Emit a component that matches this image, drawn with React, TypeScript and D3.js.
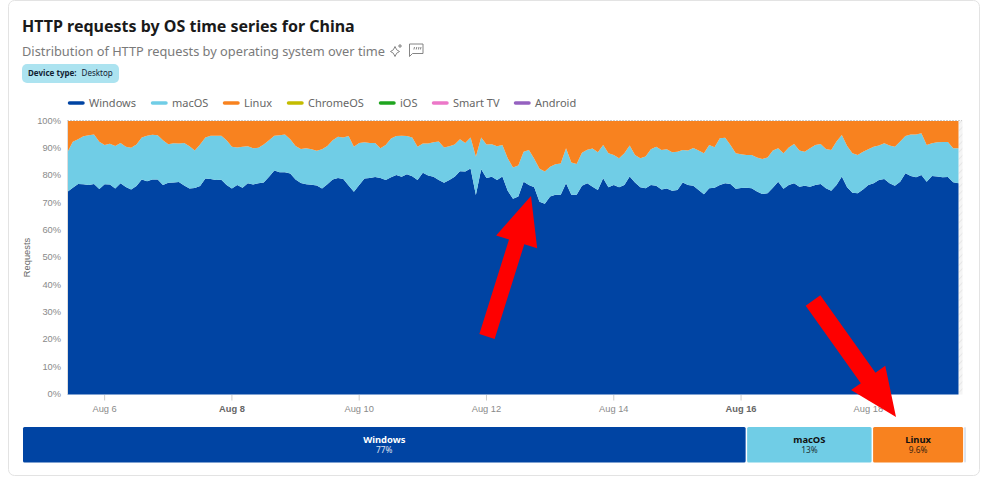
import React from "react";
import * as d3 from "d3";

const osNames = ["Windows", "macOS", "Linux", "ChromeOS", "iOS", "Smart TV", "Android"];
const osColors = ["#0044a3", "#70cde6", "#f8821f", "#c4bc00", "#1fa51f", "#ec77c8", "#9561c0"];

// Windows share (%), every 2 hours
const windowsPct = [
  74.1,75.6,77.0,76.9,76.6,77.0,75.1,76.9,76.8,75.3,77.2,75.9,75.0,76.2,78.6,78.0,78.6,78.6,76.6,77.4,
  77.5,77.7,76.4,75.3,75.5,76.2,79.0,78.8,78.4,78.5,76.6,75.3,76.6,75.6,77.2,76.8,77.2,77.5,79.6,81.9,
  81.3,81.3,80.8,78.6,77.3,76.9,76.7,76.4,75.3,76.9,78.6,79.2,78.8,76.4,74.1,76.6,79.0,79.2,79.5,79.2,
  78.4,79.4,80.3,79.6,80.5,79.8,78.4,81.1,80.1,79.6,78.4,77.4,78.4,79.6,81.6,81.5,82.6,72.9,82.4,79.2,
  79.6,78.4,79.7,74.5,71.6,72.4,77.8,76.6,75.8,70.5,69.7,72.4,73.0,73.0,77.2,73.0,73.0,76.3,77.2,76.0,
  74.8,79.1,75.8,76.6,75.8,76.6,79.7,77.5,75.8,75.4,76.6,76.3,75.0,75.3,74.5,74.8,77.5,76.6,76.3,74.8,
  73.2,75.4,75.6,76.6,77.2,77.0,75.2,75.5,75.6,75.4,74.2,73.3,73.6,75.6,77.8,75.2,76.6,77.2,76.0,76.3,
  76.0,76.6,77.0,75.4,74.5,76.6,79.7,75.8,73.8,73.6,75.0,76.6,77.2,78.4,78.8,77.2,76.3,77.8,80.9,79.9,
  79.4,80.3,77.8,79.9,79.7,79.4,79.5,77.6,77.2,
];

// Windows + macOS cumulative share (%), every 2 hours; Linux fills the rest
const windowsPlusMacPct = [
  88.7,92.4,93.3,94.4,94.8,95.1,92.4,91.2,91.7,90.9,92.0,90.6,90.2,91.4,94.0,94.6,95.0,94.8,93.0,91.5,
  91.9,91.8,92.0,90.8,89.2,91.4,94.0,94.6,94.6,94.6,93.0,90.6,90.3,90.6,90.8,90.0,90.2,91.4,93.0,94.6,
  94.8,95.1,93.3,90.9,89.8,90.0,89.7,89.1,89.7,90.9,93.0,94.2,94.0,94.5,90.6,92.0,92.2,92.0,92.0,90.0,
  91.2,93.6,94.5,94.6,94.5,94.0,90.6,91.8,91.8,92.2,92.5,90.3,90.8,91.4,93.3,92.0,94.0,86.9,94.0,91.4,
  91.5,90.8,91.2,86.4,83.0,83.7,88.8,89.4,86.2,82.5,81.5,83.3,84.2,84.5,90.0,84.8,84.3,88.4,89.5,89.9,
  88.6,91.2,88.2,87.6,86.4,88.2,91.0,87.6,86.4,87.0,89.7,90.6,89.4,89.7,88.6,88.8,89.4,89.2,90.1,89.2,
  88.2,91.2,90.4,93.7,93.9,91.2,88.2,87.8,87.6,87.6,86.7,86.1,86.7,89.2,90.0,88.2,90.3,91.6,89.2,88.8,
  90.0,91.2,91.6,89.8,89.4,92.5,94.9,90.9,88.2,87.6,88.8,89.7,90.6,91.0,91.9,91.0,90.6,92.5,94.5,95.1,
  95.1,95.5,91.2,91.9,92.2,92.3,92.3,90.0,90.0,
];

const yTicks = [0, 10, 20, 30, 40, 50, 60, 70, 80, 90, 100];
const xTickDays = [6, 8, 10, 12, 14, 16, 18];
const boldDays = [8, 16];

const summaryNames = ["Windows", "macOS", "Linux", "Other"];
const summaryShares = [76.75, 13.35, 9.7, 0.2];
const summaryLabels = ["77%", "13%", "9.6%", ""];

const startTime = Date.UTC(2025, 7, 5, 10);
const stepHours = 2;

function arrowPoints(sx: number, sy: number, tx: number, ty: number, shaft: number, headW: number, headL: number) {
  const a = Math.atan2(ty - sy, tx - sx);
  const ux = Math.cos(a), uy = Math.sin(a), nx = -uy, ny = ux;
  const bx = tx - ux * headL, by = ty - uy * headL;
  const pts = [
    [sx + (nx * shaft) / 2, sy + (ny * shaft) / 2],
    [bx + (nx * shaft) / 2, by + (ny * shaft) / 2],
    [bx + (nx * headW) / 2, by + (ny * headW) / 2],
    [tx, ty],
    [bx - (nx * headW) / 2, by - (ny * headW) / 2],
    [bx - (nx * shaft) / 2, by - (ny * shaft) / 2],
    [sx - (nx * shaft) / 2, sy - (ny * shaft) / 2],
  ];
  return pts.map((p) => p.join(",")).join(" ");
}

export default function App() {
  const uiFont = "'Noto Sans', sans-serif";
  const axisFont = "'Liberation Sans', sans-serif";
  const rows = windowsPct.map((w, i) => ({
    t: new Date(startTime + i * stepHours * 3600e3),
    w,
    m: windowsPlusMacPct[i],
  }));
  const x = d3
    .scaleUtc()
    .domain([rows[0].t, rows[rows.length - 1].t])
    .range([67.5, 958.5]);
  const y = d3.scaleLinear().domain([0, 100]).range([394.5, 121]);

  const area = (lo: (r: (typeof rows)[number]) => number, hi: (r: (typeof rows)[number]) => number) =>
    d3
      .area<(typeof rows)[number]>()
      .x((d) => x(d.t))
      .y0((d) => y(lo(d)))
      .y1((d) => y(hi(d)))(rows) ?? "";

  const summaryTotal = d3.sum(summaryShares);
  const bar = d3.scaleLinear().domain([0, summaryTotal]).range([23, 966.5]);
  let cum = 0;
  const segments = summaryNames.map((name, i) => {
    const s = { name, i, x0: bar(cum), x1: bar(cum + summaryShares[i]) };
    cum += summaryShares[i];
    return s;
  });

  const legendX = [68, 151, 223, 287, 379, 432, 514];

  return (
    <svg
      width={981}
      height={487}
      style={{ position: "absolute", left: 0, top: 0, background: "#fff" }}
    >
      <defs>
        <pattern id="hatch" width="5" height="5" patternUnits="userSpaceOnUse" patternTransform="rotate(45)">
          <rect width="5" height="5" fill="#f4f4f4" />
          <line x1="0" y1="0" x2="0" y2="5" stroke="#e2e2e2" strokeWidth="1.4" />
        </pattern>
      </defs>

      <rect x={8.5} y={0.5} width={971} height={475} rx={6} fill="#fff" stroke="#e3e3e3" />

      <text x={22} y={32} fontFamily={uiFont} fontSize={16} fontWeight={700} fill="#1a1a1a">
        HTTP requests by OS time series for China
      </text>
      <text x={22} y={56} fontFamily={uiFont} fontSize={12.8} fill="#7a7a7a">
        Distribution of HTTP requests by operating system over time
      </text>

      {/* sparkle icon */}
      <g fill="none" stroke="#777" strokeWidth={0.9}>
        <path d="M395 46.5 Q396 50.5 399.5 51.5 Q396 52.5 395 56.5 Q394 52.5 390.5 51.5 Q394 50.5 395 46.5 Z" />
        <path d="M400 44 v4 M398 46 h4" />
      </g>
      {/* quote bubble icon */}
      <g fill="none" stroke="#777" strokeWidth={0.9}>
        <path d="M409.5 44 H423 V53.5 H412.5 L409.5 56.5 Z" />
        <path d="M414.5 47 l-0.6 2.5 M416.8 47 l-0.6 2.5 M419 47 l-0.6 2.5 M421 47 l-0.6 2.5" />
      </g>

      <rect x={22} y={64} width={97} height={19} rx={5} fill="#ace3f0" />
      <text x={28} y={76} fontFamily={uiFont} fontSize={8} fill="#123">
        <tspan fontWeight={700}>Device type:</tspan>
        <tspan dx={5}>Desktop</tspan>
      </text>

      {osNames.map((n, i) => (
        <g key={n}>
          <line
            x1={legendX[i] + 1.5}
            x2={legendX[i] + 15}
            y1={103}
            y2={103}
            stroke={osColors[i]}
            strokeWidth={3.5}
            strokeLinecap="round"
          />
          <text x={legendX[i] + 21} y={107} fontFamily={uiFont} fontSize={11} fill="#666">
            {n}
          </text>
        </g>
      ))}

      {yTicks.map((t) => (
        <text key={t} x={61} y={y(t) + 2.5} textAnchor="end" fontFamily={axisFont} fontSize={9.3} fill="#8a8a8a">
          {t}%
        </text>
      ))}
      <text
        transform="translate(30,257.5) rotate(-90)"
        textAnchor="middle"
        fontFamily={axisFont}
        fontSize={9.3}
        fill="#666"
      >
        Requests
      </text>

      <rect x={958.5} y={120.5} width={4} height={274} fill="url(#hatch)" />
      <path d={area(() => 0, (d) => d.w)} fill={osColors[0]} />
      <path d={area((d) => d.w, (d) => d.m)} fill={osColors[1]} />
      <path d={area((d) => d.m, () => 100)} fill={osColors[2]} />
      <line x1={67} x2={962} y1={120.5} y2={120.5} stroke="#ccc" strokeDasharray="2 1" />
      <line x1={67.5} x2={67.5} y1={120.5} y2={394.5} stroke="#ddd" />

      {xTickDays.map((d) => {
        const px = x(new Date(Date.UTC(2025, 7, d)));
        const bold = boldDays.includes(d);
        return (
          <g key={d}>
            <line x1={px} x2={px} y1={395} y2={400.5} stroke="#ccc" />
            <text
              x={px}
              y={412}
              textAnchor="middle"
              fontFamily={axisFont}
              fontSize={9.3}
              fontWeight={bold ? 700 : 400}
              fill={bold ? "#666" : "#8a8a8a"}
            >
              Aug {d}
            </text>
          </g>
        );
      })}

      {segments.map((s) => {
        const cx = (s.x0 + s.x1 - 1.5) / 2;
        const color = s.i === 0 ? "#fff" : "#111";
        return (
          <g key={s.name}>
            <rect
              x={s.x0}
              y={427}
              width={Math.max(s.x1 - s.x0 - 1.5, 0.8)}
              height={35.5}
              rx={1.5}
              fill={s.i < 3 ? osColors[s.i] : "#a9bcd8"}
            />
            {s.i < 3 && (
              <text x={cx} y={443} textAnchor="middle" fontFamily={uiFont} fill={color} fontSize={9.4} fontWeight={700}>
                {s.name}
              </text>
            )}
            {s.i < 3 && (
              <text x={cx} y={453} textAnchor="middle" fontFamily={uiFont} fill={color} fontSize={8.3} opacity={0.85}>
                {summaryLabels[s.i]}
              </text>
            )}
          </g>
        );
      })}

      <polygon points={arrowPoints(487, 336.5, 531, 196, 16, 43, 48)} fill="#fe0000" />
      <polygon points={arrowPoints(813, 300.5, 896, 417, 18, 42, 48)} fill="#fe0000" />
    </svg>
  );
}
